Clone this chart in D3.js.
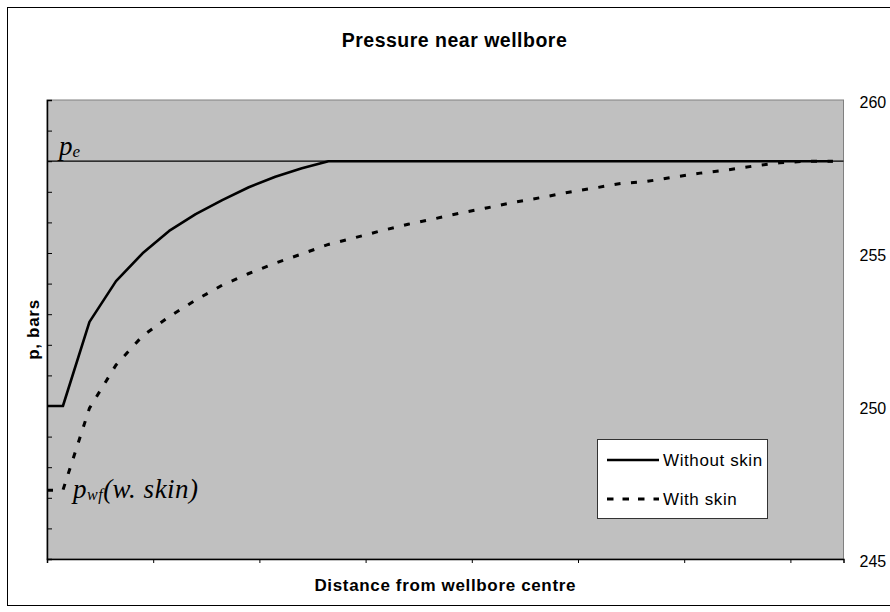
<!DOCTYPE html>
<html>
<head>
<meta charset="utf-8">
<script src="https://cdn.jsdelivr.net/npm/d3@7"></script>
<style>
  html, body { margin: 0; padding: 0; background: #ffffff; }
  svg { display: block; }
</style>
</head>
<body>
<svg id="chart" width="890" height="612"></svg>
<script>
// Distance from the wellbore centre (x) and pressure in bars (y)
const distance = [0, 0.15, 0.4, 0.65, 0.9, 1.15, 1.4, 1.65, 1.9, 2.15, 2.4, 2.65, 2.9, 3.15, 3.4,
  3.65, 3.9, 4.15, 4.4, 4.65, 4.9, 5.15, 5.4, 5.65, 5.9, 6.15, 6.4, 6.65, 6.9, 7.15, 7.4];
const pressureWithoutSkin = [250, 250, 252.75, 254.08, 254.99, 255.72, 256.27, 256.73, 257.15, 257.49,
  257.77, 258, 258, 258, 258, 258, 258, 258, 258, 258, 258, 258, 258, 258, 258, 258, 258, 258, 258, 258, 258];
const pressureWithSkin = [247.25, 247.25, 249.93, 251.34, 252.29, 252.92, 253.46, 253.95, 254.33, 254.67,
  254.97, 255.28, 255.5, 255.73, 255.94, 256.12, 256.31, 256.48, 256.66, 256.81, 256.98, 257.12, 257.27,
  257.34, 257.48, 257.61, 257.71, 257.84, 257.95, 258.0, 258.0];
const reservoirPressure = 258;
const seriesNames = ["Without skin", "With skin"];
const rightTicks = [245, 250, 255, 260];

const svg = d3.select("#chart");
const plot = { left: 47, right: 843.5, top: 100, bottom: 559 };

const x = d3.scaleLinear().domain([0, 7.5]).range([plot.left, plot.right]);
const y = d3.scaleLinear().domain([245, 260]).range([plot.bottom, plot.top]);

const sans = "'Liberation Sans', Arial, sans-serif";
const serif = "'Liberation Serif', 'Times New Roman', serif";

// chart frame
svg.append("rect")
  .attr("x", 7.5).attr("y", 7.5).attr("width", 900).attr("height", 598)
  .attr("fill", "#ffffff").attr("stroke", "#000000").attr("stroke-width", 1);

// plot area
svg.append("rect")
  .attr("x", plot.left).attr("y", plot.top)
  .attr("width", plot.right - plot.left).attr("height", plot.bottom - plot.top)
  .attr("fill", "#c0c0c0").attr("stroke", "#808080").attr("stroke-width", 1);

// title
svg.append("text")
  .attr("x", 454.5).attr("y", 46.5)
  .attr("text-anchor", "middle")
  .attr("font-family", sans).attr("font-weight", "bold").attr("font-size", 19.5)
  .attr("letter-spacing", 0.5)
  .text("Pressure near wellbore");

// left value axis: inside ticks, no labels
const yAxis = d3.axisLeft(y).ticks(15).tickSize(-5).tickFormat("");
const gy = svg.append("g").attr("transform", `translate(${plot.left},0)`).call(yAxis);
gy.select(".domain").attr("stroke", "#000").attr("stroke-width", 1.5);
gy.selectAll(".tick line").attr("stroke", "#000").attr("stroke-width", 1);

// bottom axis: outside ticks, no labels
const xAxis = d3.axisBottom(x).tickValues(d3.range(0, 8, 1)).tickSize(4).tickFormat("");
const gx = svg.append("g").attr("transform", `translate(0,${plot.bottom})`).call(xAxis);
gx.select(".domain").attr("stroke", "#000").attr("stroke-width", 1.5);
gx.selectAll(".tick line").attr("stroke", "#000").attr("stroke-width", 1);

// right-hand value labels
const gr = svg.append("g").attr("transform", `translate(${plot.right},0)`)
  .call(d3.axisRight(y).tickValues(rightTicks).tickSize(0).tickPadding(16).tickFormat(d3.format("d")));
gr.select(".domain").remove();
gr.selectAll("text").attr("font-family", sans).attr("font-size", 16).attr("fill", "#000")
  .attr("dy", "0.45em");

// axis titles
svg.append("text")
  .attr("x", (plot.left + plot.right) / 2).attr("y", 591)
  .attr("text-anchor", "middle")
  .attr("font-family", sans).attr("font-weight", "bold").attr("font-size", 17)
  .attr("letter-spacing", 0.65)
  .text("Distance from wellbore centre");

svg.append("text")
  .attr("transform", `translate(39,${(plot.top + plot.bottom) / 2}) rotate(-90)`)
  .attr("text-anchor", "middle")
  .attr("font-family", sans).attr("font-weight", "bold").attr("font-size", 17)
  .attr("letter-spacing", 0.7)
  .text("p, bars");

// reservoir pressure line
svg.append("line")
  .attr("x1", plot.left).attr("x2", plot.right)
  .attr("y1", y(reservoirPressure)).attr("y2", y(reservoirPressure))
  .attr("stroke", "#000").attr("stroke-width", 1.2);

// pressure profiles
const line = d3.line().x((d, i) => x(distance[i])).y(d => y(d));

svg.append("path")
  .datum(pressureWithoutSkin)
  .attr("d", line)
  .attr("fill", "none").attr("stroke", "#000").attr("stroke-width", 2.6)
  .attr("stroke-linejoin", "round");

svg.append("path")
  .datum(pressureWithSkin)
  .attr("d", line)
  .attr("fill", "none").attr("stroke", "#000").attr("stroke-width", 3)
  .attr("stroke-dasharray", "6,10.5");

// annotations
const pe = svg.append("text")
  .attr("x", 59).attr("y", 155)
  .attr("font-family", serif).attr("font-style", "italic").attr("font-size", 27);
pe.append("tspan").text("p");
pe.append("tspan").attr("font-size", 17).attr("dy", 2).text("e");

const pwf = svg.append("text")
  .attr("x", 73).attr("y", 498)
  .attr("font-family", serif).attr("font-style", "italic").attr("font-size", 27)
  .attr("letter-spacing", 0.5);
pwf.append("tspan").text("p");
pwf.append("tspan").attr("font-size", 16).attr("dy", 2).text("wf");
pwf.append("tspan").attr("dy", -2).text("(w. skin)");

// legend
const legend = svg.append("g");
legend.append("rect")
  .attr("x", 597.5).attr("y", 439.5).attr("width", 170).attr("height", 79)
  .attr("fill", "#ffffff").attr("stroke", "#333").attr("stroke-width", 1);

const legendRows = [
  { name: seriesNames[0], dash: null, width: 2.6, cy: 460 },
  { name: seriesNames[1], dash: "6.5,9", width: 3, cy: 499 }
];
legendRows.forEach(r => {
  legend.append("line")
    .attr("x1", 607).attr("x2", 659).attr("y1", r.cy).attr("y2", r.cy)
    .attr("stroke", "#000").attr("stroke-width", r.width)
    .attr("stroke-dasharray", r.dash);
  legend.append("text")
    .attr("x", 663).attr("y", r.cy + 5.5)
    .attr("font-family", sans).attr("font-size", 17)
    .attr("letter-spacing", 0.6)
    .text(r.name);
});
</script>
</body>
</html>
